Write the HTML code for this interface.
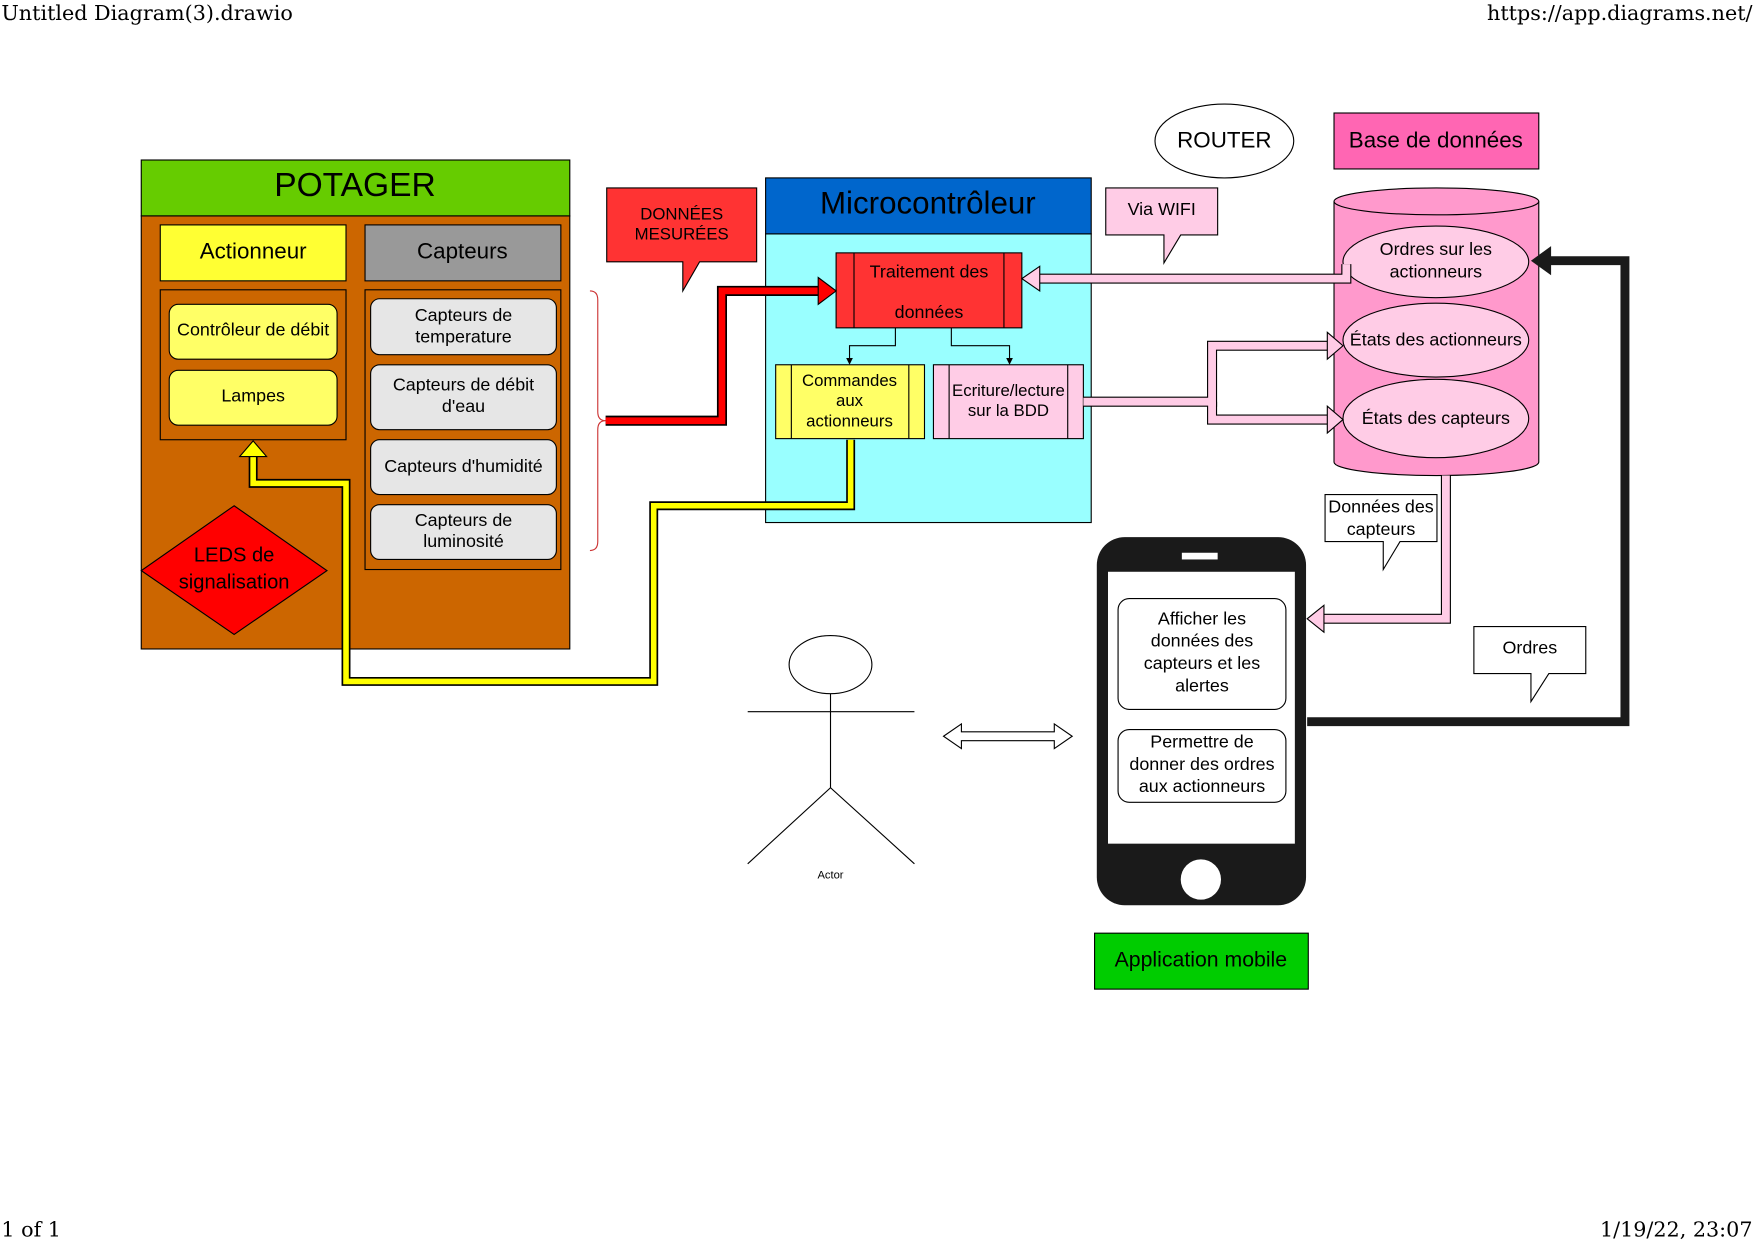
<!DOCTYPE html>
<html><head><meta charset="utf-8"><style>
html,body{margin:0;padding:0;background:#fff;}
svg{display:block;}
text{font-family:"Liberation Sans",sans-serif;}
</style></head><body>
<svg width="1755" height="1242" viewBox="0 0 1568 1110" xmlns="http://www.w3.org/2000/svg">
<rect width="1568" height="1110" fill="#fff"/>
<g font-size="18.5" fill="#000">
<text x="1" y="18" style="font-family:'DejaVu Serif',serif">Untitled Diagram(3).drawio</text>
<text x="1566" y="18" text-anchor="end" style="font-family:'DejaVu Serif',serif">https://app.diagrams.net/</text>
<text x="1" y="1105" style="font-family:'DejaVu Serif',serif">1 of 1</text>
<text x="1566" y="1105" text-anchor="end" style="font-family:'DejaVu Serif',serif">1/19/22, 23:07</text>
</g>

<!-- POTAGER -->
<rect x="126" y="143" width="383" height="50" fill="#66CC00" stroke="#000"/>
<text x="317" y="175" font-size="30" text-anchor="middle">POTAGER</text>
<rect x="126" y="193" width="383" height="387" fill="#CC6600" stroke="#000"/>
<rect x="143" y="201" width="166" height="50" fill="#FFFF33" stroke="#000"/>
<text x="226" y="231" font-size="20" text-anchor="middle">Actionneur</text>
<rect x="326" y="201" width="175" height="50" fill="#999999" stroke="#000"/>
<text x="413" y="231" font-size="20" text-anchor="middle">Capteurs</text>
<rect x="143" y="259" width="166" height="134" fill="#CC6600" stroke="#000"/>
<rect x="151" y="272" width="150" height="49" rx="8" fill="#FFFF66" stroke="#000"/>
<text x="226" y="300" font-size="16" text-anchor="middle">Contrôleur de débit</text>
<rect x="151" y="331" width="150" height="49" rx="8" fill="#FFFF66" stroke="#000"/>
<text x="226" y="359" font-size="16" text-anchor="middle">Lampes</text>
<rect x="326" y="259" width="175" height="250" fill="#CC6600" stroke="#000"/>
<g fill="#E6E6E6" stroke="#000">
<rect x="331" y="267" width="166" height="50" rx="8"/>
<rect x="331" y="326" width="166" height="58" rx="8"/>
<rect x="331" y="393" width="166" height="49" rx="8"/>
<rect x="331" y="451" width="166" height="49" rx="8"/>
</g>
<g font-size="16" text-anchor="middle">
<text x="414" y="287">Capteurs de</text><text x="414" y="306">temperature</text>
<text x="414" y="349">Capteurs de débit</text><text x="414" y="368">d'eau</text>
<text x="414" y="422">Capteurs d'humidité</text>
<text x="414" y="470">Capteurs de</text><text x="414" y="489">luminosité</text>
</g>
<polygon points="209,452 292,510 209,567 126,510" fill="#FF0000" stroke="#000"/>
<text x="209" y="502" font-size="18" text-anchor="middle">LEDS de</text>
<text x="209" y="526" font-size="18" text-anchor="middle">signalisation</text>

<path d="M527,260 Q534,260 534,268 L534,368 Q534,376 541,376 Q534,376 534,384 L534,484 Q534,492 527,492" fill="none" stroke="#CC3333" stroke-width="1"/>

<path d="M542,168 H676 V234 H625 L610,260 L610,234 H542 Z" fill="#FF3333" stroke="#000"/>
<text x="609" y="196" font-size="15" text-anchor="middle">DONNÉES</text>
<text x="609" y="214" font-size="15" text-anchor="middle">MESURÉES</text>

<rect x="684" y="209" width="291" height="258" fill="#99FFFF" stroke="#000"/>
<rect x="684" y="159" width="291" height="50" fill="#0066CC" stroke="#000"/>
<text x="829" y="191" font-size="28" text-anchor="middle">Microcontrôleur</text>
<rect x="747" y="226" width="166" height="67" fill="#FF3333" stroke="#000"/>
<line x1="763" y1="226" x2="763" y2="293" stroke="#000"/><line x1="897" y1="226" x2="897" y2="293" stroke="#000"/>
<text x="830" y="248" font-size="16" text-anchor="middle">Traitement des</text>
<text x="830" y="284" font-size="16" text-anchor="middle">données</text>
<rect x="693" y="326" width="133" height="66" fill="#FFFF66" stroke="#000"/>
<line x1="707" y1="326" x2="707" y2="392" stroke="#000"/><line x1="812" y1="326" x2="812" y2="392" stroke="#000"/>
<g font-size="15" text-anchor="middle">
<text x="759" y="345">Commandes</text><text x="759" y="363">aux</text><text x="759" y="381">actionneurs</text>
</g>
<rect x="834" y="326" width="134" height="66" fill="#FFCCE6" stroke="#000"/>
<line x1="848" y1="326" x2="848" y2="392" stroke="#000"/><line x1="954" y1="326" x2="954" y2="392" stroke="#000"/>
<text x="901" y="354" font-size="15" text-anchor="middle">Ecriture/lecture</text>
<text x="901" y="372" font-size="15" text-anchor="middle">sur la BDD</text>
<polyline points="800,293 800,309 759,309 759,322" fill="none" stroke="#000"/>
<polygon points="756,320 759,326 762,320" fill="#000"/>
<polyline points="850,293 850,309 902,309 902,322" fill="none" stroke="#000"/>
<polygon points="899,320 902,326 905,320" fill="#000"/>

<polyline points="541,376 645,376 645,260 733,260" fill="none" stroke="#000" stroke-width="9"/>
<polyline points="541,376 645,376 645,260 735,260" fill="none" stroke="#FF0000" stroke-width="6"/>
<polygon points="731,248 747,260 731,272" fill="#FF0000" stroke="#000"/>

<ellipse cx="1094" cy="126" rx="62" ry="33" fill="#fff" stroke="#000"/>
<text x="1094" y="132" font-size="20" text-anchor="middle">ROUTER</text>
<path d="M988,168 H1088 V210 H1055 L1040,235 L1040,210 H988 Z" fill="#FFCCE6" stroke="#000"/>
<text x="1038" y="192" font-size="16" text-anchor="middle">Via WIFI</text>
<rect x="1192" y="101" width="183" height="50" fill="#FF66B3" stroke="#000"/>
<text x="1283" y="132" font-size="20" text-anchor="middle">Base de données</text>
<path d="M1192,180 V413 A91.5,12 0 0 0 1375,413 V180" fill="#FF99CC" stroke="#000"/>
<ellipse cx="1283.5" cy="180" rx="91.5" ry="12" fill="#FF99CC" stroke="#000"/>
<g fill="#FFCCE6" stroke="#000">
<ellipse cx="1283" cy="234" rx="83" ry="32"/>
<ellipse cx="1283" cy="304" rx="83" ry="33"/>
<ellipse cx="1283" cy="374" rx="83" ry="35"/>
</g>
<g font-size="16" text-anchor="middle">
<text x="1283" y="228">Ordres sur les</text><text x="1283" y="248">actionneurs</text>
<text x="1283" y="309">États des actionneurs</text>
<text x="1283" y="379">États des capteurs</text>
</g>

<g fill="none" stroke-linejoin="miter">
<polyline points="1203,236 1203,249 927,249" stroke="#000" stroke-width="9"/>
<polyline points="1203,236 1203,249 925,249" stroke="#FFCCE6" stroke-width="7"/>
<polyline points="968,359 1083,359 1083,309 1187,309" stroke="#000" stroke-width="9"/>
<polyline points="1083,359 1083,375 1187,375" stroke="#000" stroke-width="9"/>
<polyline points="968,359 1083,359 1083,309 1189,309" stroke="#FFCCE6" stroke-width="7"/>
<polyline points="1083,359 1083,375 1189,375" stroke="#FFCCE6" stroke-width="7"/>
<polyline points="1292,425 1292,553 1182,553" stroke="#000" stroke-width="9"/>
<polyline points="1292,425 1292,553 1180,553" stroke="#FFCCE6" stroke-width="7"/>
</g>
<g fill="#FFCCE6" stroke="#000">
<polygon points="929,238 913,249 929,260"/>
<polygon points="1186,297 1200,309 1186,321"/>
<polygon points="1186,363 1200,375 1186,387"/>
<polygon points="1183,541 1168,553 1183,565"/>
</g>

<polyline points="760,393 760,452 584,452 584,609 309,609 309,432 226,432 226,408" fill="none" stroke="#000" stroke-width="8"/>
<polyline points="760,393 760,452 584,452 584,609 309,609 309,432 226,432 226,406" fill="none" stroke="#FFFF00" stroke-width="5"/>
<polygon points="214,408 226,394 238,408" fill="#FFFF00" stroke="#000"/>

<path d="M1184,442 H1284 V484 H1251 L1236,509 L1236,484 H1184 Z" fill="#fff" stroke="#000"/>
<text x="1234" y="458" font-size="16" text-anchor="middle">Données des</text>
<text x="1234" y="478" font-size="16" text-anchor="middle">capteurs</text>
<path d="M1317,560 H1417 V602 H1384 L1368,627 L1368,602 H1317 Z" fill="#fff" stroke="#000"/>
<text x="1367" y="584" font-size="16" text-anchor="middle">Ordres</text>

<polyline points="1168,645 1452,645 1452,233 1384,233" fill="none" stroke="#1a1a1a" stroke-width="8"/>
<polygon points="1386,220 1368,233 1386,246" fill="#1a1a1a"/>

<rect x="980" y="480" width="187" height="329" rx="25" fill="#1a1a1a"/>
<rect x="990" y="511" width="167" height="243" fill="#fff"/>
<rect x="1056" y="494" width="32" height="6" fill="#fff"/>
<circle cx="1073" cy="786" r="18" fill="#fff"/>
<rect x="999" y="535" width="150" height="99" rx="10" fill="#fff" stroke="#000"/>
<g font-size="16" text-anchor="middle">
<text x="1074" y="558">Afficher les</text><text x="1074" y="578">données des</text><text x="1074" y="598">capteurs et les</text><text x="1074" y="618">alertes</text>
</g>
<rect x="999" y="652" width="150" height="65" rx="10" fill="#fff" stroke="#000"/>
<g font-size="16" text-anchor="middle">
<text x="1074" y="668">Permettre de</text><text x="1074" y="688">donner des ordres</text><text x="1074" y="708">aux actionneurs</text>
</g>
<rect x="978" y="834" width="191" height="50" fill="#00CC00" stroke="#000"/>
<text x="1073" y="864" font-size="19" text-anchor="middle">Application mobile</text>

<ellipse cx="742" cy="594" rx="37" ry="26" fill="#fff" stroke="#000"/>
<g stroke="#000" fill="none">
<line x1="742" y1="620" x2="742" y2="704"/>
<line x1="668" y1="636" x2="817" y2="636"/>
<polyline points="668,772 742,704 817,772"/>
</g>
<text x="742" y="785" font-size="10" text-anchor="middle">Actor</text>
<path d="M843,658 L859,647 V654 H942 V647 L958,658 L942,669 V662 H859 V669 Z" fill="#fff" stroke="#000"/>
</svg>
</body></html>
